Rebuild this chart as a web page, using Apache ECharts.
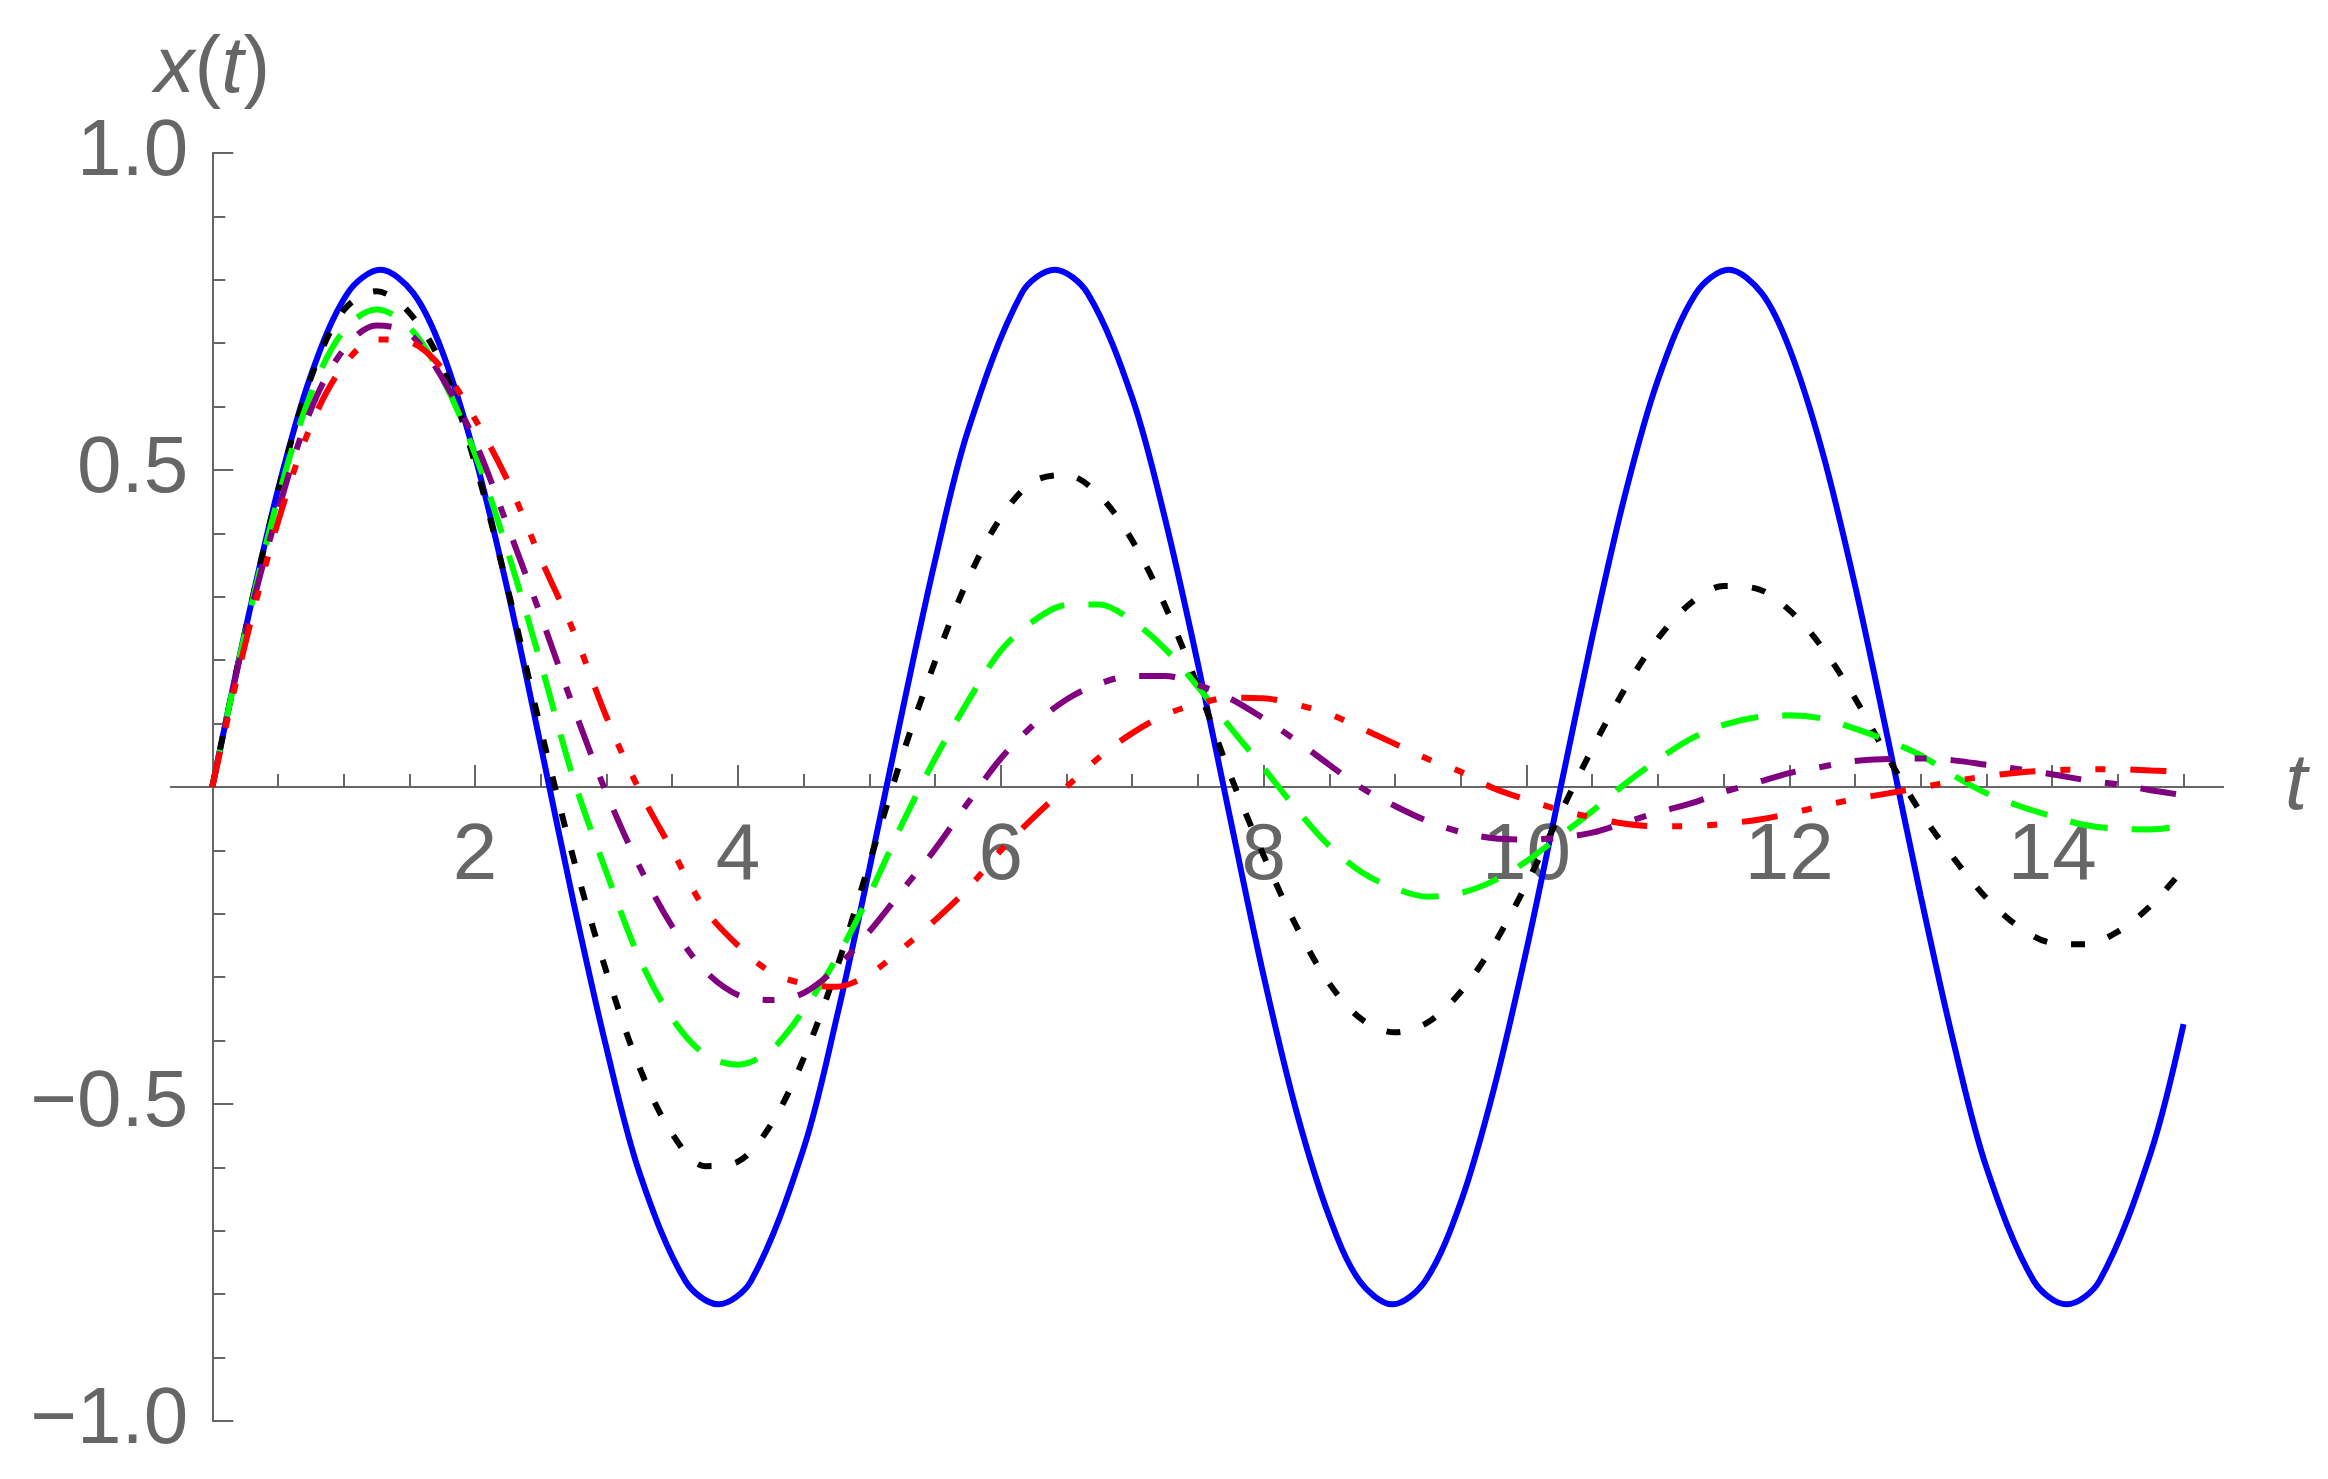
<!DOCTYPE html>
<html lang="en">
<head>
	<meta charset="UTF-8">
	<title>x(t)</title>
	<style>
		html, body { margin: 0; padding: 0; background: #fff; }
		#main { width: 2328px; height: 1479px; }
	</style>
</head>
<body>
	<div id="main"></div>

	<script src="https://cdn.jsdelivr.net/npm/echarts@6/dist/echarts.min.js"></script>
	<script>
		// sample times (step 0.25)
		var tValues = [0, 0.25, 0.5, 0.75, 1, 1.25, 1.5, 1.75, 2, 2.25, 2.5,
			2.75, 3, 3.25, 3.5, 3.75, 4, 4.25, 4.5, 4.75, 5,
			5.25, 5.5, 5.75, 6, 6.25, 6.5, 6.75, 7, 7.25, 7.5,
			7.75, 8, 8.25, 8.5, 8.75, 9, 9.25, 9.5, 9.75, 10,
			10.25, 10.5, 10.75, 11, 11.25, 11.5, 11.75, 12, 12.25, 12.5,
			12.75, 13, 13.25, 13.5, 13.75, 14, 14.25, 14.5, 14.75, 15];

		// blue solid: its own times, with a point on each crest and one either side
		var tBlue = [0, 0.25, 0.5, 0.75, 1.03, 1.28, 1.53, 1.75, 2, 2.25, 2.5, 2.75, 3, 3.25,
			3.6, 3.85, 4.1, 4.5, 4.75, 5, 5.25, 5.5, 5.75,
			6.16, 6.41, 6.66, 7, 7.25, 7.5, 7.75, 8, 8.25, 8.5,
			8.73, 8.98, 9.23, 9.5, 9.75, 10, 10.25, 10.5, 10.75, 11,
			11.29, 11.54, 11.79, 12, 12.25, 12.5, 12.75, 13, 13.25, 13.5,
			13.86, 14.11, 14.36, 14.75, 15];
		var xBlue = [0, 0.246, 0.469, 0.649, 0.779, 0.816, 0.779, 0.687, 0.521, 0.308, 0.065, -0.183, -0.412, -0.608,
			-0.779, -0.816, -0.779, -0.570, -0.365, -0.129, 0.119, 0.357, 0.562,
			0.779, 0.816, 0.779, 0.614, 0.423, 0.194, -0.054, -0.298, -0.512, -0.678,
			-0.779, -0.816, -0.779, -0.655, -0.478, -0.257, -0.011, 0.236, 0.461, 0.642,
			0.779, 0.816, 0.779, 0.692, 0.530, 0.318, 0.076, -0.172, -0.403, -0.600,
			-0.779, -0.816, -0.779, -0.577, -0.374];

		// black dotted
		var xBlack = [0, 0.245, 0.466, 0.645, 0.752, 0.782, 0.748, 0.665, 0.51, 0.311, 0.091,
			-0.114, -0.292, -0.442, -0.547, -0.598, -0.591, -0.533, -0.428, -0.287, -0.12,
			0.049, 0.198, 0.327, 0.425, 0.482, 0.492, 0.46, 0.389, 0.286, 0.158,
			0.017, -0.108, -0.22, -0.31, -0.367, -0.387, -0.371, -0.323, -0.249, -0.153,
			-0.045, 0.06, 0.155, 0.234, 0.29, 0.317, 0.313, 0.279, 0.22, 0.14,
			0.047, -0.04, -0.112, -0.175, -0.221, -0.246, -0.248, -0.228, -0.187, -0.129];

		// green dashed
		var xGreen = [0, 0.243, 0.455, 0.62, 0.72, 0.753, 0.725, 0.645, 0.525, 0.37, 0.195,
			0.012, -0.135, -0.27, -0.365, -0.422, -0.438, -0.415, -0.352, -0.27, -0.17,
			-0.058, 0.045, 0.135, 0.215, 0.262, 0.287, 0.288, 0.262, 0.218, 0.158,
			0.093, 0.03, -0.035, -0.093, -0.135, -0.16, -0.173, -0.167, -0.148, -0.117,
			-0.078, -0.038, 0.005, 0.043, 0.076, 0.098, 0.11, 0.113, 0.108, 0.092,
			0.073, 0.05, 0.018, -0.01, -0.03, -0.046, -0.06, -0.066, -0.067, -0.061];

		// purple dash-dot
		var xPurple = [0, 0.24, 0.435, 0.595, 0.69, 0.728, 0.715, 0.645, 0.545, 0.41, 0.27,
			0.125, -0.01, -0.125, -0.22, -0.29, -0.328, -0.336, -0.325, -0.285, -0.228,
			-0.163, -0.098, -0.025, 0.045, 0.098, 0.138, 0.163, 0.175, 0.175, 0.161,
			0.139, 0.108, 0.073, 0.035, -0.002, -0.03, -0.054, -0.071, -0.081, -0.083,
			-0.08, -0.072, -0.056, -0.04, -0.026, -0.008, 0.007, 0.022, 0.032, 0.041,
			0.044, 0.045, 0.042, 0.035, 0.028, 0.02, 0.011, 0.004, -0.005, -0.013];

		// red dash-dot-dot
		var xRed = [0, 0.225, 0.418, 0.57, 0.665, 0.706, 0.702, 0.66, 0.58, 0.482, 0.36,
			0.245, 0.11, -0.005, -0.1, -0.193, -0.25, -0.292, -0.31, -0.315, -0.295,
			-0.255, -0.21, -0.16, -0.1, -0.048, 0.0, 0.047, 0.085, 0.114, 0.131,
			0.141, 0.14, 0.13, 0.115, 0.092, 0.068, 0.044, 0.024, -0.002, -0.02,
			-0.036, -0.048, -0.058, -0.062, -0.062, -0.058, -0.052, -0.042, -0.03, -0.019,
			-0.01, -0.001, 0.009, 0.017, 0.023, 0.026, 0.028, 0.028, 0.026, 0.024];

		// tick labels
		var xMajorTicks = [2, 4, 6, 8, 10, 12, 14];
		var xMinorTicks = [0.5, 1, 1.5, 2.5, 3, 3.5, 4.5, 5, 5.5, 6.5, 7, 7.5,
			8.5, 9, 9.5, 10.5, 11, 11.5, 12.5, 13, 13.5, 14.5, 15];

		var axisGray = '#666666';
		var font = 'Liberation Sans, Arial, sans-serif';

		// plot box (px) and the offsets that put the axes through 0
		var gridLeft = 171, gridRight = 105, gridTop = 153, gridBottom = 58;
		var tMin = -0.314, tMax = 15.3;
		var plotW = 2328 - gridLeft - gridRight;
		var plotH = 1479 - gridTop - gridBottom;
		var yAxisOffset = -(0 - tMin) / (tMax - tMin) * plotW;
		var xAxisOffset = -plotH / 2;

		function pairs(ts, ys) {
			var out = [];
			for (var i = 0; i < ts.length; i++) {
				out.push([ts[i], ys[i]]);
			}
			return out;
		}

		function curve(name, ts, ys, color, dash) {
			return {
				name: name,
				type: 'line',
				data: pairs(ts, ys),
				showSymbol: false,
				smooth: 0.33,
				lineStyle: { color: color, width: 6, type: dash, cap: 'butt' }
			};
		}

		var myChart = echarts.init(document.getElementById('main'));
		var option = {
			animation: false,
			backgroundColor: '#ffffff',
			grid: { left: gridLeft, right: gridRight, top: gridTop, bottom: gridBottom, outerBoundsMode: 'none' },
			xAxis: [{
				type: 'value',
				position: 'bottom',
				offset: xAxisOffset,
				min: tMin,
				max: tMax,
				name: 't',
				nameLocation: 'end',
				nameGap: 62,
				nameTextStyle: { fontFamily: font, fontStyle: 'italic', fontSize: 80, color: axisGray, verticalAlign: 'middle' },
				axisLine: { onZero: false, lineStyle: { color: axisGray, width: 2 } },
				axisTick: { inside: true, length: 22, customValues: xMajorTicks, lineStyle: { color: axisGray, width: 2 } },
				axisLabel: { customValues: xMajorTicks, fontFamily: font, fontSize: 80, color: axisGray, margin: 30 },
				splitLine: { show: false }
			}, {
				// minor ticks only
				type: 'value',
				position: 'bottom',
				offset: xAxisOffset,
				min: tMin,
				max: tMax,
				axisLine: { onZero: false, lineStyle: { color: axisGray, width: 2 } },
				axisTick: { inside: true, length: 13, customValues: xMinorTicks, lineStyle: { color: axisGray, width: 2 } },
				axisLabel: { show: false },
				splitLine: { show: false }
			}],
			yAxis: {
				type: 'value',
				position: 'left',
				offset: yAxisOffset,
				min: -1,
				max: 1,
				interval: 0.5,
				name: '{i|x}({i|t})',
				nameLocation: 'end',
				nameGap: 43,
				nameTextStyle: {
					fontFamily: font, fontSize: 80, color: axisGray,
					rich: { i: { fontFamily: font, fontStyle: 'italic', fontSize: 80, color: axisGray } }
				},
				axisLine: { onZero: false, lineStyle: { color: axisGray, width: 2 } },
				axisTick: { inside: true, length: 21, lineStyle: { color: axisGray, width: 2 } },
				minorTick: { show: true, splitNumber: 5, length: 13, lineStyle: { color: axisGray, width: 2 } },
				axisLabel: {
					fontFamily: font, fontSize: 80, color: axisGray, margin: 24,
					formatter: function (v) {
						if (Math.abs(v) < 1e-9) return '';
						return (v < 0 ? '\u2212' : '') + Math.abs(v).toFixed(1);
					}
				},
				splitLine: { show: false },
				minorSplitLine: { show: false }
			},
			series: [
				curve('blue', tBlue, xBlue, '#0000ff', 'solid'),
				curve('black', tValues, xBlack, '#000000', [14, 24]),
				curve('green', tValues, xGreen, '#00ff00', [38, 24]),
				curve('purple', tValues, xPurple, '#800080', [36, 24, 12, 24]),
				curve('red', tValues, xRed, '#ff0000', [36, 25, 10, 25, 10, 25])
			]
		};
		myChart.setOption(option);
	</script>
</body>
</html>
